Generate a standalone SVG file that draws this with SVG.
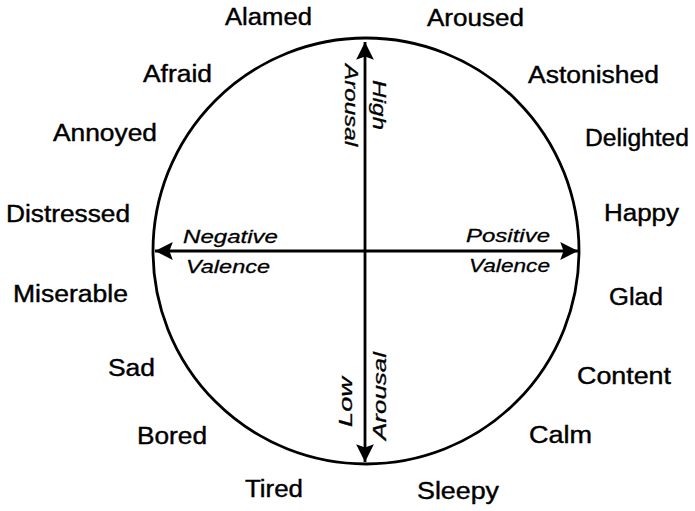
<svg xmlns="http://www.w3.org/2000/svg" width="695" height="511" viewBox="0 0 695 511">
<style>
.w{font-family:"Liberation Sans",Arial,sans-serif;font-size:23px;fill:#000;stroke:#000;stroke-width:0.4}
.a{font-family:"Liberation Sans",Arial,sans-serif;font-size:19px;font-style:italic;fill:#000;stroke:#000;stroke-width:0.3}
.ln{stroke:#000;stroke-width:2.8;fill:none}
</style>
<defs>
<marker id="arr" markerUnits="userSpaceOnUse" markerWidth="20" markerHeight="20" viewBox="0 -9 18 18" refX="16" refY="0" orient="auto-start-reverse">
<path d="M0,-8 L16,0 L0,8 L3,0 Z" fill="#000"/>
</marker>
</defs>
<rect width="695" height="511" fill="#fff"/>
<g id="circle"><circle class="ln" cx="366" cy="251" r="213"/></g>
<g id="connectors">
<line class="ln" x1="365" y1="42" x2="365" y2="462" marker-start="url(#arr)" marker-end="url(#arr)"/>
<line class="ln" x1="155" y1="251" x2="578" y2="251" marker-start="url(#arr)" marker-end="url(#arr)"/>
</g>
<g id="axis-labels">
<text class="a" x="183" y="243" textLength="95" lengthAdjust="spacingAndGlyphs">Negative</text>
<text class="a" x="186" y="273" textLength="84" lengthAdjust="spacingAndGlyphs">Valence</text>
<text class="a" x="466" y="242" textLength="84" lengthAdjust="spacingAndGlyphs">Positive</text>
<text class="a" x="469" y="272" textLength="81" lengthAdjust="spacingAndGlyphs">Valence</text>
<text class="a" transform="translate(373,80) rotate(90)" textLength="50" lengthAdjust="spacingAndGlyphs">High</text>
<text class="a" transform="translate(345,64) rotate(90)" textLength="82" lengthAdjust="spacingAndGlyphs">Arousal</text>
<text class="a" transform="translate(352,427) rotate(-90)" textLength="50" lengthAdjust="spacingAndGlyphs">Low</text>
<text class="a" transform="translate(386,440) rotate(-90)" textLength="88" lengthAdjust="spacingAndGlyphs">Arousal</text>
</g>
<g id="n-alamed"><text class="w" x="225" y="25" textLength="87" lengthAdjust="spacingAndGlyphs">Alamed</text></g>
<g id="n-aroused"><text class="w" x="427" y="26" textLength="97" lengthAdjust="spacingAndGlyphs">Aroused</text></g>
<g id="n-afraid"><text class="w" x="143" y="82" textLength="69" lengthAdjust="spacingAndGlyphs">Afraid</text></g>
<g id="n-astonished"><text class="w" x="528" y="83" textLength="131" lengthAdjust="spacingAndGlyphs">Astonished</text></g>
<g id="n-annoyed"><text class="w" x="53" y="141" textLength="104" lengthAdjust="spacingAndGlyphs">Annoyed</text></g>
<g id="n-delighted"><text class="w" x="585" y="146" textLength="104" lengthAdjust="spacingAndGlyphs">Delighted</text></g>
<g id="n-distressed"><text class="w" x="6" y="222" textLength="124" lengthAdjust="spacingAndGlyphs">Distressed</text></g>
<g id="n-happy"><text class="w" x="604" y="221" textLength="75" lengthAdjust="spacingAndGlyphs">Happy</text></g>
<g id="n-miserable"><text class="w" x="13" y="302" textLength="115" lengthAdjust="spacingAndGlyphs">Miserable</text></g>
<g id="n-glad"><text class="w" x="609" y="305" textLength="54" lengthAdjust="spacingAndGlyphs">Glad</text></g>
<g id="n-sad"><text class="w" x="108" y="376" textLength="47" lengthAdjust="spacingAndGlyphs">Sad</text></g>
<g id="n-content"><text class="w" x="577" y="384" textLength="94" lengthAdjust="spacingAndGlyphs">Content</text></g>
<g id="n-bored"><text class="w" x="137" y="444" textLength="70" lengthAdjust="spacingAndGlyphs">Bored</text></g>
<g id="n-calm"><text class="w" x="529" y="443" textLength="63" lengthAdjust="spacingAndGlyphs">Calm</text></g>
<g id="n-tired"><text class="w" x="245" y="497" textLength="58" lengthAdjust="spacingAndGlyphs">Tired</text></g>
<g id="n-sleepy"><text class="w" x="417" y="499" textLength="82" lengthAdjust="spacingAndGlyphs">Sleepy</text></g>
</svg>
